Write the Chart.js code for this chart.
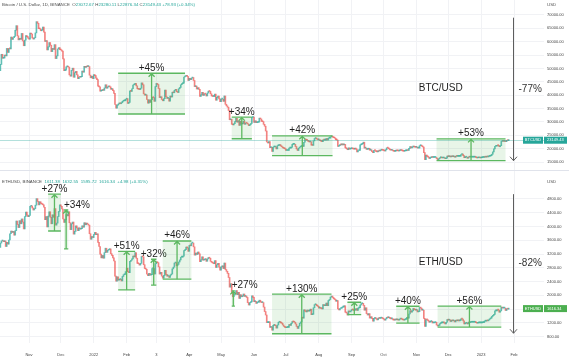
<!DOCTYPE html>
<html><head><meta charset="utf-8">
<script src="https://cdn.jsdelivr.net/npm/chart.js@4.4.1/dist/chart.umd.min.js"></script>
<style>
html,body{margin:0;padding:0;background:#fff;}
#wrap{position:relative;width:569px;height:359px;overflow:hidden;background:#fff;}
#c1{position:absolute;left:0;top:0;}
#c2{position:absolute;left:0;top:170px;}
#sep{position:absolute;left:0;top:170px;width:569px;height:1px;background:#e0e3eb;}
</style></head><body>
<div id="wrap"><canvas id="c1" width="569" height="170"></canvas><canvas id="c2" width="569" height="189"></canvas><div id="sep"></div></div>
<script>
// ---- data ----
const startDate = '2021-10-04';
const btcClose = [49200,
51500,55300,53800,53900,55000,54700,57500,56000,57400,57300,61700,60900,61500,62000,64300,66000,62200,60700,61300,60900,63100,60300,58500,60600,62300,61900,61300,
61000,63200,62900,61400,61000,61500,63300,67500,66900,64900,64800,64100,64400,65500,63600,60100,60400,56900,58100,59700,58700,56300,57500,57100,58900,53700,54700,57300,57800,57000,
56900,56500,53600,49200,49400,50600,50600,50500,47600,47100,49300,50100,46700,48400,48900,47600,46200,46800,46700,46900,49000,48600,50800,50400,50800,50700,50700,47500,46500,47100,46200,
47700,47300,46400,45800,43400,43100,41500,41700,41900,41800,42700,43900,42600,43100,43200,43100,42200,42400,41700,40700,36500,35100,36300,36700,37000,36800,37200,37700,37900,37900,38500,
38700,36900,37300,41600,41400,42400,43800,44000,44400,43500,42400,42200,42100,42600,44600,43900,40500,40000,40100,38400,37000,38300,37300,38300,39200,39100,37700,43200,
44400,44000,42500,39100,39400,38400,37900,38700,41900,39400,38800,38800,37800,39700,39300,41100,40900,41800,42200,41300,41000,42400,42900,43900,44300,44500,46800,47100,47400,47000,45500,
46300,45800,46400,46600,45500,43200,43400,42300,42800,42200,39500,40100,41100,39900,40500,40400,39700,40800,41500,41400,40500,39700,39500,39500,40400,38100,39200,39700,38600,37600,
38500,38500,37700,39700,36600,36000,35500,34300,30800,31000,29100,28900,29300,30100,31300,29900,30400,28700,30300,29200,29400,30300,29100,29600,29500,29200,28600,29000,29400,31700,31800,
29800,30400,29700,29800,29900,31400,31100,30200,30100,29100,28400,26600,22500,22100,22600,20400,20500,19000,20600,20600,20700,19900,21100,21200,21500,21000,20700,20300,20100,19900,
19300,19300,19300,20200,20200,20500,21600,21600,21600,20800,19900,19300,20200,20600,20800,21200,20800,22400,23400,23200,23100,22700,22500,22600,21300,21200,22900,23800,23800,23600,23300,
23300,23000,22800,22600,23300,23200,23200,23800,23200,23900,23900,24400,24400,24300,24100,23900,23300,23200,20800,21100,21500,21400,21500,21400,21600,20300,20000,19600,20300,19800,20000,
20100,19900,19800,20000,19800,18800,19300,19300,21400,21600,21800,22400,20200,20200,19700,19800,20100,19400,19500,18900,18500,19400,19300,18900,18800,19200,19100,19400,19600,19400,
19300,19100,19600,20300,20200,19900,19500,19400,19400,19100,19000,19100,19400,19200,19100,19300,19500,19300,19100,19000,19200,19200,19600,19300,20100,20800,20300,20600,20800,20600,20500,
20500,20200,20200,21100,21300,20900,20600,18500,15900,17600,17100,16800,16300,16600,16900,16700,16700,16700,16700,16300,15800,16200,16600,16600,16500,16500,16500,16200,16400,17200,
17000,17100,16900,17100,17000,17100,16800,17200,17100,17100,17100,17200,17800,18000,17400,16600,16800,16800,16400,16900,16800,16800,16800,16800,16800,16900,16700,16500,16600,16600,16500,
16600,16700,16700,16900,16800,17000,16900,17100,17200,17400,17900,18800,19900,20900,20900,21200,21100,20700,21100,22700,22800,22700,22900,22600,23100,23000,23149.43];

const ethClose = [3390,
3520,3580,3590,3560,3580,3420,3540,3490,3610,3790,3870,3830,3850,3750,3880,4160,4060,3970,4170,4080,4220,4130,3930,4290,4420,4330,4290,
4320,4590,4600,4540,4480,4520,4620,4810,4730,4630,4720,4670,4650,4630,4560,4200,4290,3990,4300,4430,4270,4080,4340,4270,4520,4040,4100,4290,4440,4630,
4590,4510,4220,4120,4200,4350,4310,4430,4110,3910,4080,4130,3780,3860,4020,3960,3880,3960,3920,3940,4020,3980,4110,4050,4100,4070,4040,3790,3630,3710,3680,
3770,3830,3760,3790,3540,3420,3200,3090,3160,3080,3240,3370,3250,3310,3330,3350,3210,3160,3090,3000,2560,2410,2540,2440,2460,2470,2420,2550,2600,2610,2690,
2790,2690,2660,2990,3020,3060,3140,3120,3240,3080,2930,2920,2880,2930,3130,3120,2890,2780,2760,2620,2570,2640,2590,2600,2780,2780,2620,2920,
2970,2950,2830,2620,2670,2560,2500,2580,2730,2610,2560,2560,2520,2590,2620,2770,2820,2940,2950,2860,2900,2970,3030,3110,3110,3140,3300,3330,3400,3380,3280,
3450,3440,3520,3520,3410,3170,3230,3190,3260,3210,2980,3030,3120,3020,3040,3060,2990,3060,3100,3080,2990,2960,2940,2920,3010,2810,2890,2930,2820,2730,
2830,2860,2780,2940,2750,2700,2640,2520,2240,2340,2070,1960,2010,2060,2140,2020,2090,1910,2020,1960,1980,2040,1970,1980,1940,1790,1720,1790,1810,1990,1940,
1820,1830,1770,1800,1800,1860,1810,1790,1790,1660,1530,1430,1210,1210,1230,1070,1090,990,1130,1130,1120,1050,1140,1220,1240,1200,1190,1140,1100,1070,
1060,1070,1070,1150,1130,1190,1240,1230,1220,1170,1100,1040,1110,1190,1230,1360,1340,1580,1540,1520,1570,1540,1550,1600,1440,1450,1640,1730,1740,1700,1680,
1630,1630,1620,1610,1730,1700,1700,1780,1700,1850,1880,1950,1980,1940,1900,1880,1830,1850,1610,1580,1620,1630,1660,1660,1700,1510,1490,1430,1550,1520,1550,
1590,1580,1560,1580,1620,1560,1630,1640,1720,1760,1770,1710,1570,1640,1470,1430,1470,1340,1380,1330,1250,1330,1330,1320,1290,1340,1330,1340,1340,1330,
1310,1280,1320,1360,1350,1350,1330,1320,1320,1290,1280,1300,1290,1300,1280,1310,1330,1310,1290,1280,1300,1310,1360,1340,1460,1560,1510,1550,1620,1590,1570,
1580,1520,1530,1650,1630,1570,1570,1330,1100,1300,1290,1260,1220,1240,1250,1200,1200,1210,1220,1140,1110,1130,1180,1200,1200,1210,1200,1170,1220,1300,
1280,1290,1240,1280,1260,1270,1230,1280,1260,1270,1260,1270,1320,1310,1260,1170,1190,1190,1170,1220,1210,1220,1220,1220,1220,1230,1210,1190,1200,1200,1200,
1200,1210,1210,1250,1250,1270,1260,1290,1320,1340,1390,1420,1450,1550,1550,1580,1570,1510,1550,1660,1630,1630,1630,1560,1610,1600,1616.34];

const monthTickDates = ['2021-11-01','2021-12-01','2022-01-01','2022-02-01','2022-03-01','2022-04-01','2022-05-01','2022-06-01','2022-07-01','2022-08-01','2022-09-01','2022-10-01','2022-11-01','2022-12-01','2023-01-01','2023-02-01'];
const monthTickLabels = ['Nov','Dec','2022','Feb','3','Apr','May','Jun','Jul','Aug','Sep','Oct','Nov','Dec','2023','Feb'];
const btcTickValues = [15000,20000,25000,30000,35000,40000,45000,50000,55000,60000,65000,70000];
const ethTickValues = [800,1200,1600,2000,2400,2800,3200,3600,4000,4400,4800];

const btcRangeFrom  = ['2022-01-24','2022-05-11','2022-06-18','2022-11-20'];
const btcRangeTo    = ['2022-03-28','2022-05-30','2022-08-14','2023-01-24'];
const btcRangeLow   = [32950, 23700, 17400, 15480];
const btcRangeHigh  = [48200, 31800, 24800, 23650];
const btcRangeLabel = ['+45%','+34%','+42%','+53%'];

const ethRangeFrom  = ['2021-11-19','2021-12-04','2022-01-24','2022-02-24','2022-03-07','2022-05-11','2022-06-18','2022-08-28','2022-10-13','2022-11-21'];
const ethRangeTo    = ['2021-12-01','2021-12-08','2022-02-09','2022-03-01','2022-04-03','2022-05-14','2022-08-13','2022-09-10','2022-11-04','2023-01-20'];
const ethRangeLow   = [3870, 3350, 2160, 2300, 2470, 1690, 885, 1440, 1195, 1080];
const ethRangeHigh  = [4940, 4480, 3280, 3050, 3580, 2130, 2035, 1800, 1685, 1690];
const ethRangeLabel = ['+27%','+34%','+51%','+32%','+46%','+27%','+130%','+25%','+40%','+56%'];
const ethRangeLabelAlign = ['center','left','center','center','center','left','center','center','center','center'];

const btcDrop = {date:'2023-01-31', from:69000, to:15480, label:'-77%'};
const ethDrop = {date:'2023-01-31', from:4940, to:900, label:'-82%'};
const btcName = {date:'2022-11-24', value:42690, text:'BTC/USD'};
const ethName = {date:'2022-11-24', value:2970, text:'ETH/USD'};

const btcTitle = [['Bitcoin / U.S. Dollar, 1D, BINANCE  ','g'],['O','g'],['23072.67 ','v'],['H','g'],['23280.11 ','v'],['L','g'],['22876.34 ','v'],['C','g'],['23149.43 ','v'],['+78.93 (+0.34%)','v']];
const ethTitle = [['ETHUSD, BINANCE  ','g'],['1611.38  1632.55  1595.72  1616.34  +4.98 (+0.31%)','v']];

// ---- helpers ----
const FONT = "'Liberation Sans', Arial, sans-serif";
const UP = 'rgba(38,166,154,0.72)', DOWN = 'rgba(239,83,80,0.72)';
const GRID = '#f1f2f5';
function dayOf(s){ return Math.round((Date.parse(s+'T00:00:00Z') - Date.parse(startDate+'T00:00:00Z'))/864e5); }
function candles(closes){ const out=[]; for(let i=1;i<closes.length;i++) out.push({x:i, y:[closes[i-1], closes[i]]}); return out; }

function overlay(cfg){
  return { id:'ov_'+cfg.id, afterDraw(chart){
    const ctx = chart.ctx, xs = chart.scales.x, ys = chart.scales.y, ca = chart.chartArea;
    ctx.save();
    const last = cfg.closes[cfg.closes.length-1];
    const yl = Math.round(ys.getPixelForValue(last))+0.5;
    if (cfg.priceLine){ ctx.strokeStyle = cfg.priceLine; ctx.lineWidth=1; ctx.beginPath(); ctx.moveTo(ca.left,yl); ctx.lineTo(ca.right,yl); ctx.stroke(); }
    for (let i=0;i<cfg.from.length;i++){
      const x0 = xs.getPixelForValue(dayOf(cfg.from[i])), x1 = xs.getPixelForValue(dayOf(cfg.to[i]));
      const yT = ys.getPixelForValue(cfg.high[i]), yB = ys.getPixelForValue(cfg.low[i]);
      const xc = (x0+x1)/2;
      ctx.fillStyle='rgba(76,175,80,0.13)'; ctx.fillRect(x0,yT,x1-x0,yB-yT);
      ctx.strokeStyle='#5cb860'; ctx.lineWidth=1.3;
      ctx.beginPath(); ctx.moveTo(x0,yT); ctx.lineTo(x1,yT); ctx.moveTo(x0,yB); ctx.lineTo(x1,yB); ctx.stroke();
      ctx.beginPath(); ctx.moveTo(xc,yB); ctx.lineTo(xc,yT+0.5); ctx.moveTo(xc-3,yT+3.5); ctx.lineTo(xc,yT+0.5); ctx.lineTo(xc+3,yT+3.5); ctx.stroke();
      ctx.font = '10px '+FONT; ctx.fillStyle='#1e1e1e'; ctx.textBaseline='alphabetic';
      const al = cfg.align ? cfg.align[i] : 'center';
      ctx.textAlign = al;
      ctx.fillText(cfg.label[i], al==='left' ? x0 : xc, yT-2.5);
    }
    const d = cfg.drop, xa = Math.round(xs.getPixelForValue(dayOf(d.date)))+0.5;
    const ya0 = ys.getPixelForValue(d.from), ya1 = ys.getPixelForValue(d.to);
    ctx.strokeStyle='#5d5d5d'; ctx.lineWidth=1;
    ctx.beginPath(); ctx.moveTo(xa,ya0); ctx.lineTo(xa,ya1); ctx.moveTo(xa-3.5,ya1-4); ctx.lineTo(xa,ya1); ctx.lineTo(xa+3.5,ya1-4); ctx.stroke();
    ctx.font = '10px '+FONT; ctx.fillStyle='#333'; ctx.textAlign='left'; ctx.textBaseline='middle';
    ctx.fillText(d.label, xa+5, (ya0+ya1)/2);
    ctx.textAlign='center'; ctx.fillStyle='#1e1e1e';
    ctx.fillText(cfg.name.text, xs.getPixelForValue(dayOf(cfg.name.date)), ys.getPixelForValue(cfg.name.value));
    ctx.font = '4.4px '+FONT; ctx.textAlign='left'; ctx.textBaseline='middle';
    let tx = 2;
    for (const [t,c] of cfg.title){ ctx.fillStyle = c==='g' ? '#4a4a4a' : cfg.valColor; ctx.fillText(t, tx, cfg.titleY); tx += ctx.measureText(t).width; }
    ctx.fillStyle='#555'; ctx.fillText('USD', ca.right+3, cfg.titleY);
    const yc = ys.getPixelForValue(last);
    ctx.fillStyle = cfg.labelColor;
    ctx.fillRect(ca.right-21, yc-3.5, 20, 7);
    ctx.fillRect(ca.right, yc-3.5, chart.width-ca.right-2, 7);
    ctx.fillStyle='#fff'; ctx.font='4px '+FONT; ctx.textBaseline='middle';
    ctx.textAlign='center'; ctx.fillText(cfg.sym, ca.right-11, yc);
    ctx.textAlign='left'; ctx.fillText(last.toFixed(2), ca.right+3, yc);
    ctx.restore();
  }};
}

function makeChart(el, closes, ticksY, yMin, yMax, showX, padTop, xH, ov){
  return new Chart(document.getElementById(el), {
    type:'bar',
    data:{ datasets:[{ data: candles(closes), barThickness:1, minBarLength:1,
      backgroundColor: c => (c.raw && c.raw.y[1] >= c.raw.y[0]) ? UP : DOWN,
      borderWidth:0 }]},
    options:{
      responsive:false, animation:false, devicePixelRatio:1,
      layout:{padding:{top:padTop,left:0,right:0,bottom:0}},
      plugins:{legend:{display:false}, tooltip:{enabled:false}},
      scales:{
        x:{ type:'linear', min:0.67, max:513.25, offset:false,
          afterBuildTicks: s => { s.ticks = monthTickDates.map(d => ({value: dayOf(d)})); },
          ticks:{ display: showX, autoSkip:false, maxRotation:0, padding:9, color:'#444', font:{size:4, family:FONT},
            callback: (v, i) => monthTickLabels[i] },
          grid:{ color:GRID, drawTicks:false, offset:false }, border:{display:false},
          afterFit: s => { s.height = xH; s.paddingLeft = 0; s.paddingRight = 0; } },
        y:{ position:'right', min:yMin, max:yMax,
          afterBuildTicks: s => { s.ticks = ticksY.map(v => ({value:v})); },
          ticks:{ padding:3, color:'#444', font:{size:4, family:FONT}, callback: v => Number(v).toFixed(2) },
          grid:{ color:GRID, drawTicks:false }, border:{display:false},
          afterFit: s => { s.width = 25; s.paddingTop = 0; s.paddingBottom = 0; } }
      }
    },
    plugins:[ov]
  });
}

makeChart('c1', btcClose, btcTickValues, 12007, 75612, false, 0, 0, overlay({
  id:'btc', closes:btcClose, from:btcRangeFrom, to:btcRangeTo, low:btcRangeLow, high:btcRangeHigh, label:btcRangeLabel,
  drop:btcDrop, name:btcName, title:btcTitle, titleY:5, valColor:'#26a69a', labelColor:'#26a69a', sym:'BTCUSD',
  priceLine:'rgba(38,166,154,0.35)'
}));
makeChart('c2', ethClose, ethTickValues, 617, 5613, true, 1, 16, overlay({
  id:'eth', closes:ethClose, from:ethRangeFrom, to:ethRangeTo, low:ethRangeLow, high:ethRangeHigh, label:ethRangeLabel, align:ethRangeLabelAlign,
  drop:ethDrop, name:ethName, title:ethTitle, titleY:12, valColor:'#26a69a', labelColor:'#4caf50', sym:'ETHUSD',
  priceLine:null
}));
</script>
</body></html>
